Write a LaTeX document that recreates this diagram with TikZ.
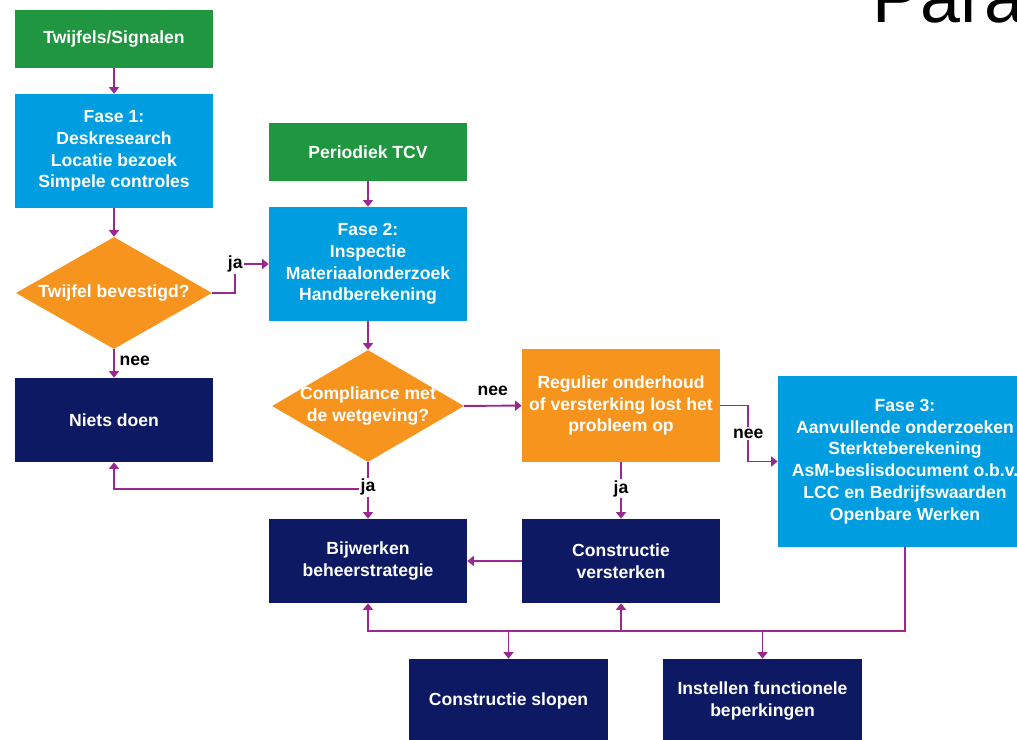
\documentclass[tikz,border=0pt]{standalone}
\usepackage{fontspec}
\setmainfont{Liberation Sans}
\usetikzlibrary{shapes.geometric,arrows.meta,positioning,calc}
\definecolor{startgreen}{HTML}{1F963F}
\definecolor{faseblue}{HTML}{009EE0}
\definecolor{keuzeorange}{HTML}{F7941E}
\definecolor{actienavy}{HTML}{0D1A63}
\definecolor{pijlpurple}{HTML}{9B2790}

\begin{document}
\begin{tikzpicture}[x=0.025cm, y=-0.025cm,
    every node/.style={font=\fontsize{12.5}{15.5}\selectfont\bfseries},
    blok/.style={minimum width=4.95cm, minimum height=1.45cm, align=center, text=white, inner sep=0pt},
    start/.style={blok, fill=startgreen},
    fase/.style={blok, fill=faseblue, minimum height=2.85cm},
    actie/.style={blok, fill=actienavy, minimum height=2.1cm},
    keuze/.style={diamond, fill=keuzeorange, minimum width=4.9cm, minimum height=2.8cm, inner sep=0pt},
    keuzetekst/.style={text=white, align=center, inner sep=0pt},
    lbl/.style={text=black, fill=white, inner sep=1pt},
    pijl/.style={draw=pijlpurple, line width=1.4pt, -{Triangle[width=7pt,length=4.6pt]}}]
        \useasboundingbox (0,0) rectangle (1017,740);
        \clip (0,0) rectangle (1017,740);
        \node[anchor=base west, font=\fontsize{51}{51}\selectfont] (titel) at (868,23) {Para};
        % linker kolom
        \node[start] (sig) at (114,39) {Twijfels/Signalen};
        \node[fase] (fase1) at (114,151) {Fase 1:\\Deskresearch\\Locatie bezoek\\Simpele controles};
        \node[keuze, label={[keuzetekst]center:Twijfel bevestigd?}] (twijfel) at (114,293) {};
        \node[actie] (niets) at (114,420) {Niets doen};
        % middelste kolom
        \node[start] (tcv) at (368,152) {Periodiek TCV};
        \node[fase] (fase2) at (368,264) {Fase 2:\\Inspectie\\Materiaalonderzoek\\Handberekening};
        \node[keuze, minimum width=4.8cm, label={[keuzetekst]center:Compliance met\\de wetgeving?}] (compl) at (368,406) {};
        \node[blok, fill=keuzeorange, minimum height=2.83cm] (regulier) at (621,405.5) {Regulier onderhoud\\of versterking lost het\\probleem op};
        \node[fase, minimum width=6.35cm, minimum height=4.28cm] (fase3) at (905,461.5) {Fase 3:\\Aanvullende onderzoeken\\Sterkteberekening\\AsM-beslisdocument o.b.v.\\LCC en Bedrijfswaarden\\Openbare Werken};
        \node[actie] (bij) at (368,561) {Bijwerken\\beheerstrategie};
        \node[actie] (vers) at (621,561) {Constructie\\versterken};
        \node[actie] (slopen) at (508.5,701) {Constructie slopen};
        \node[actie] (instel) at (762.5,701) {Instellen functionele\\beperkingen};
        \coordinate (splitsing) at (368,489);
        \coordinate (rail) at (905,631);
        % verbindingen
        \draw[pijl] (sig) -- (fase1);
        \draw[pijl] (fase1) -- (twijfel);
        \draw[pijl] (twijfel.east) -- ++(23,0) |- node[pos=0.5, lbl] {ja} (fase2.west);
        \draw[pijl] (twijfel) -- node[pos=0.4, right, text=black] {nee} (niets);
        \draw[pijl] (tcv) -- (fase2);
        \draw[pijl] (fase2) -- (compl);
        \draw[pijl] (compl) -- node[above=3pt, text=black] {nee} (regulier);
        \draw[pijl] (splitsing) -| (niets.south);
        \draw[pijl] (compl) -- node[pos=0.44, lbl] {ja} (bij);
        \draw[pijl] (regulier.east) -- ++(28,0) |- node[pos=0.25, lbl] {nee} (fase3.west);
        \draw[pijl] (regulier) -- node[pos=0.47, lbl] {ja} (vers);
        \draw[pijl] (vers) -- (bij);
        \draw[pijl] (fase3.south) -- (rail) -| (bij.south);
        \foreach \doel/\kant in {vers/south, slopen/north, instel/north} {
            \draw[pijl] (\doel.\kant |- rail) -- (\doel.\kant);
        }
    \end{tikzpicture}
\end{document}
